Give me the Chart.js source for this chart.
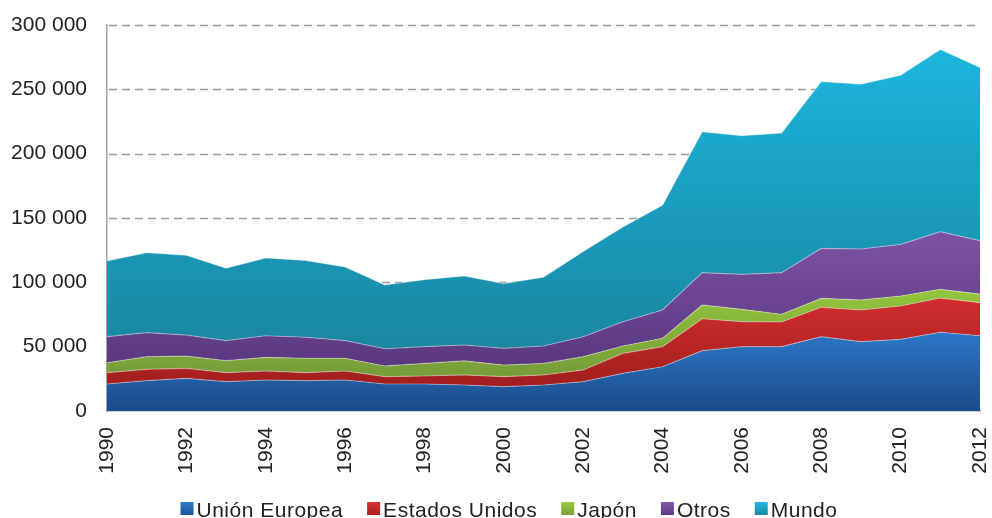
<!DOCTYPE html>
<html>
<head>
<meta charset="utf-8">
<script src="https://cdn.jsdelivr.net/npm/chart.js@4/dist/chart.umd.min.js"></script>
<style>
  html, body { margin: 0; padding: 0; background: #fff; overflow: hidden; }
  #wrap { width: 992px; height: 518px; position: relative; }
</style>
</head>
<body>
<div id="wrap"><canvas id="chart"></canvas></div>
<script>
const years = ["1990","1991","1992","1993","1994","1995","1996","1997","1998","1999","2000","2001",
  "2002","2003","2004","2005","2006","2007","2008","2009","2010","2011","2012"];

// band thickness of each series (stacked)
const unionEuropea = [21000,23600,25400,22800,24100,23600,24100,21000,21000,20200,18900,20200,
  22800,29300,34400,46900,50000,50000,57800,53900,55700,61200,58500];
const estadosUnidos = [8800,8800,7800,7000,7000,6200,7000,5700,6200,7800,7800,7800,
  9100,15500,15600,24800,19400,19200,22800,24600,25900,26600,25700];
const japon = [7700,9800,9500,9300,10600,11200,9900,8300,9800,11000,9000,9000,
  10300,5700,6500,10700,9600,6000,7000,7800,7800,6800,6700];
const otros = [20300,18700,16300,15600,16800,16300,13700,13400,13000,12300,13000,13500,
  15500,18900,22000,25100,27200,32300,38800,39600,40100,44800,41500];
const mundo = [58800,62100,62000,56300,60500,59700,57300,49600,52000,53700,50300,53500,
  66300,73600,81500,109500,107800,108500,129600,128100,131500,141600,134600];

const yTicks = [0, 50000, 100000, 150000, 200000, 250000, 300000];

const seriesNames = ["Unión Europea", "Estados Unidos", "Japón", "Otros", "Mundo"];
const seriesData = [unionEuropea, estadosUnidos, japon, otros, mundo];

// [top colour, bottom colour] of each band's gradient
const gradColors = [
  ["#2c76c6", "#1a4b8a"],
  ["#d12d2d", "#a11e1e"],
  ["#93c63d", "#759c38"],
  ["#7d52a6", "#5a3780"],
  ["#1bb5dd", "#1a87a2"]
];
const legendColors = [
  ["#2f7bcc", "#1d5396"],
  ["#d83030", "#a82020"],
  ["#9ccc40", "#78a035"],
  ["#8058aa", "#5c3884"],
  ["#20b8e0", "#1688a6"]
];

const FONT = "'Liberation Sans', Arial, sans-serif";

function fmt(v) {
  return String(v).replace(/\B(?=(\d{3})+(?!\d))/g, " ");
}

function bandGradient(ctx, i) {
  const chart = ctx.chart;
  const area = chart.chartArea;
  if (!area) return gradColors[i][0];
  const y = chart.scales.y;
  let hi = 0, lo = Infinity;
  for (let j = 0; j < years.length; j++) {
    let below = 0;
    for (let k = 0; k < i; k++) below += seriesData[k][j];
    hi = Math.max(hi, below + seriesData[i][j]);
    lo = Math.min(lo, below);
  }
  const g = chart.ctx.createLinearGradient(0, y.getPixelForValue(hi), 0, y.getPixelForValue(lo));
  g.addColorStop(0, gradColors[i][0]);
  g.addColorStop(1, gradColors[i][1]);
  return g;
}

const datasets = seriesData.map((d, i) => ({
  label: seriesNames[i],
  data: d,
  fill: i === 0 ? "origin" : "-1",
  backgroundColor: ctx => bandGradient(ctx, i),
  borderColor: "rgba(255,255,255,0.35)",
  borderWidth: 1.2,
  pointRadius: 0,
  pointHoverRadius: 0,
  tension: 0
}));

// dashed horizontal gridlines behind the areas
const dashGrid = {
  id: "dashGrid",
  beforeDatasetsDraw(chart) {
    const { ctx, chartArea, scales } = chart;
    ctx.save();
    ctx.strokeStyle = "#9c9c9c";
    ctx.lineWidth = 1.5;
    ctx.setLineDash([8, 5]);
    yTicks.forEach(v => {
      if (v === 0) return;
      const py = Math.round(scales.y.getPixelForValue(v)) + 0.5;
      ctx.beginPath();
      ctx.moveTo(chartArea.left + 2, py);
      ctx.lineTo(chartArea.right, py);
      ctx.stroke();
    });
    ctx.restore();
  }
};

// legend drawn under the axis labels, tight box/text spacing like the original
const bottomLegend = {
  id: "bottomLegend",
  afterDraw(chart) {
    const ctx = chart.ctx;
    ctx.save();
    ctx.font = "21px " + FONT;
    if ("letterSpacing" in ctx) ctx.letterSpacing = "0.5px";
    ctx.textBaseline = "alphabetic";
    ctx.fillStyle = "#222";
    const box = 13, gapText = 3, gapItem = 24;
    const widths = seriesNames.map(n => ctx.measureText(n).width);
    const total = widths.reduce((a, w) => a + box + gapText + w, 0) + gapItem * (seriesNames.length - 1);
    let x = 509 - total / 2;
    const base = 517;
    seriesNames.forEach((n, i) => {
      const g = ctx.createLinearGradient(0, base - 15, 0, base - 2);
      g.addColorStop(0, legendColors[i][0]);
      g.addColorStop(1, legendColors[i][1]);
      ctx.fillStyle = g;
      ctx.fillRect(x, base - 15, box, box);
      ctx.fillStyle = "#222";
      ctx.fillText(n, x + box + gapText, base);
      x += box + gapText + widths[i] + gapItem;
    });
    ctx.restore();
  }
};

new Chart(document.getElementById("chart"), {
  type: "line",
  data: { labels: years, datasets },
  options: {
    responsive: true,
    maintainAspectRatio: false,
    animation: false,
    layout: { padding: { top: 25, right: 12, left: 0, bottom: 37 } },
    plugins: {
      tooltip: { enabled: false },
      legend: { display: false }
    },
    scales: {
      x: {
        grid: { display: false, drawTicks: false },
        border: { display: true, color: "#a6a6a6", width: 1.5 },
        ticks: {
          font: { family: FONT, size: 21 },
          color: "#222",
          minRotation: 90,
          maxRotation: 90,
          padding: 16,
          autoSkip: false,
          callback: function (v, i) { return i % 2 === 0 ? years[i] : ""; }
        },
        afterFit: s => { s.height = 70; s.paddingLeft = 0; s.paddingRight = 0; }
      },
      y: {
        stacked: true,
        min: 0,
        max: 300000,
        afterBuildTicks: s => { s.ticks = yTicks.map(v => ({ value: v })); },
        grid: { display: false, drawTicks: false },
        border: { display: true, color: "#a6a6a6", width: 1.5 },
        ticks: {
          font: { family: FONT, size: 21 },
          color: "#222",
          padding: 20,
          callback: v => fmt(v)
        },
        afterFit: s => { s.width = 107; s.paddingTop = 0; s.paddingBottom = 0; }
      }
    }
  },
  plugins: [dashGrid, bottomLegend]
});
</script>
</body>
</html>
